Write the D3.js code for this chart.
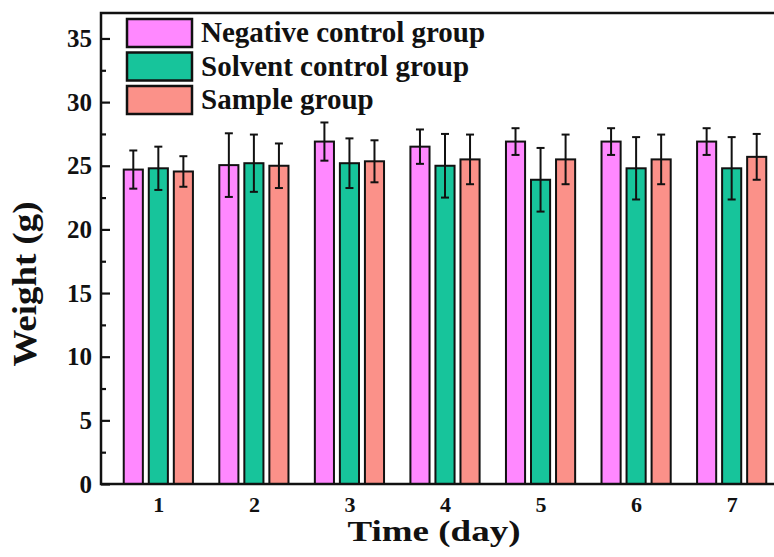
<!DOCTYPE html>
<meta charset="utf-8">
<script src="https://d3js.org/d3.v7.min.js"></script>
<style>
  body { margin: 0; background: #fff; }
  text { font-family: "Liberation Serif", "Times New Roman", serif; font-weight: bold; fill: #111; }
</style>
<div id="chart"></div>
<script>

// data
var days = [1, 2, 3, 4, 5, 6, 7];
var groups = ["Negative control group", "Solvent control group", "Sample group"];
var negative = [24.7, 25.05, 26.9, 26.5, 26.9, 26.9, 26.9];
var negativeErr = [1.5, 2.5, 1.5, 1.35, 1.05, 1.05, 1.05];
var solvent = [24.8, 25.2, 25.2, 25.0, 23.9, 24.8, 24.8];
var solventErr = [1.7, 2.25, 1.95, 2.5, 2.5, 2.45, 2.45];
var sample = [24.55, 25.0, 25.35, 25.5, 25.5, 25.5, 25.7];
var sampleErr = [1.2, 1.75, 1.65, 1.95, 1.95, 1.95, 1.8];
var yTicks = [0, 5, 10, 15, 20, 25, 30, 35];
var yMinorTicks = [2.5, 7.5, 12.5, 17.5, 22.5, 27.5, 32.5];

var colors = ["#ff88ff", "#17c49b", "#fb9189"];
var series = [negative, solvent, sample];
var errors = [negativeErr, solventErr, sampleErr];

var W = 774, H = 557;
var margin = {top: 13, left: 101, bottom: 73};
var plotRight = 789;   // frame runs past the right edge of the picture

var svg = d3.select("#chart")
  .append("svg")
    .attr("width", W)
    .attr("height", H);

var x = d3.scaleLinear()
    .domain([0.4, 7.6])
    .range([margin.left, plotRight]);

var y = d3.scaleLinear()
    .domain([0, 37])
    .range([H - margin.bottom, margin.top]);

var barOffset = 0.262, barWidth = 0.2;

// bars and error bars
var rows = [];
series.forEach(function(s, gi) {
  s.forEach(function(v, i) {
    rows.push({day: days[i], g: gi, v: v, e: errors[gi][i]});
  });
});

var cx = function(d) { return x(d.day + (d.g - 1) * barOffset); };
var bw = x(1 + barWidth) - x(1);

svg.append("g").selectAll("rect")
  .data(rows)
  .enter().append("rect")
    .attr("x", function(d) { return cx(d) - bw / 2; })
    .attr("y", function(d) { return y(d.v); })
    .attr("width", bw)
    .attr("height", function(d) { return y(0) - y(d.v); })
    .style("fill", function(d) { return colors[d.g]; })
    .style("stroke", "#111")
    .style("stroke-width", 2);

var err = svg.append("g").selectAll("g")
  .data(rows)
  .enter().append("g")
    .style("stroke", "#111")
    .style("stroke-width", 2);

err.append("line")
    .attr("x1", cx).attr("x2", cx)
    .attr("y1", function(d) { return y(d.v + d.e); })
    .attr("y2", function(d) { return y(d.v - d.e); });
err.append("line")
    .attr("x1", function(d) { return cx(d) - 4; })
    .attr("x2", function(d) { return cx(d) + 4; })
    .attr("y1", function(d) { return y(d.v + d.e); })
    .attr("y2", function(d) { return y(d.v + d.e); });
err.append("line")
    .attr("x1", function(d) { return cx(d) - 4; })
    .attr("x2", function(d) { return cx(d) + 4; })
    .attr("y1", function(d) { return y(d.v - d.e); })
    .attr("y2", function(d) { return y(d.v - d.e); });

// axes
var yAxis = svg.append("g")
    .attr("transform", "translate(" + margin.left + ",0)")
    .call(d3.axisLeft(y).tickValues(yTicks).tickSize(-9).tickPadding(9));
yAxis.selectAll("text").style("font-size", "25px");

var yMinor = svg.append("g")
    .attr("transform", "translate(" + margin.left + ",0)")
    .call(d3.axisLeft(y).tickValues(yMinorTicks).tickSize(-5).tickFormat(""));

var xAxis = svg.append("g")
    .attr("transform", "translate(0," + y(0) + ")")
    .call(d3.axisBottom(x).tickValues(days).tickSize(0).tickPadding(12));
xAxis.selectAll("text").style("font-size", "22px");

svg.selectAll(".domain").remove();
svg.selectAll(".tick line").style("stroke", "#111").style("stroke-width", 2.2);

// frame
svg.append("rect")
    .attr("x", margin.left)
    .attr("y", margin.top)
    .attr("width", plotRight - margin.left)
    .attr("height", y(0) - margin.top)
    .style("fill", "none")
    .style("stroke", "#111")
    .style("stroke-width", 2.5);

// legend
var legend = svg.append("g").selectAll("g")
  .data(groups)
  .enter().append("g")
    .attr("transform", function(d, i) { return "translate(127," + (19 + i * 33.5) + ")"; });

legend.append("rect")
    .attr("width", 65)
    .attr("height", 28)
    .style("fill", function(d, i) { return colors[i]; })
    .style("stroke", "#111")
    .style("stroke-width", 2.5);

legend.append("text")
    .attr("x", 74)
    .attr("y", 23)
    .style("font-size", "29px")
    .text(function(d) { return d; });

// axis labels
svg.append("text")
    .attr("text-anchor", "middle")
    .attr("x", 434)
    .attr("y", 541)
    .attr("textLength", 173)
    .attr("lengthAdjust", "spacingAndGlyphs")
    .style("font-size", "29px")
    .text("Time (day)");

svg.append("text")
    .attr("text-anchor", "middle")
    .attr("transform", "translate(36,284) rotate(-90)")
    .attr("textLength", 165)
    .attr("lengthAdjust", "spacingAndGlyphs")
    .style("font-size", "33px")
    .text("Weight (g)");

</script>
